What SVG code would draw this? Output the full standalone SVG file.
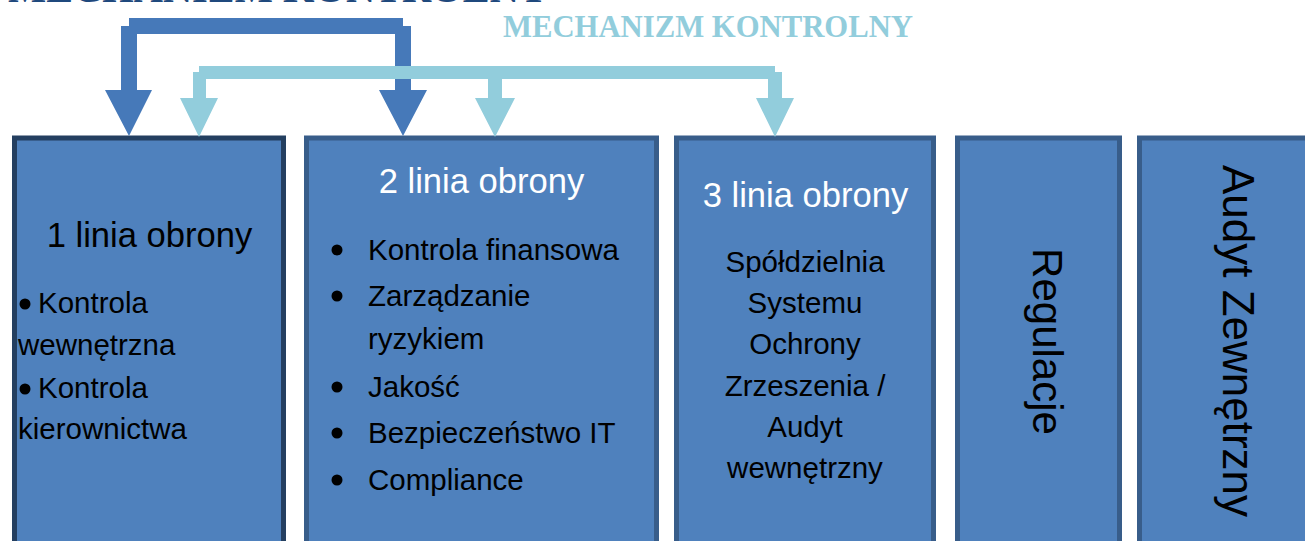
<svg xmlns="http://www.w3.org/2000/svg" width="1305" height="541" viewBox="0 0 1305 541">
<style>
.box{fill:#4F81BD;stroke:#385D8A;stroke-width:5}
.box1{stroke:#243F60}
.t{font-family:"Liberation Sans",Arial,sans-serif;fill:#000}
.h{font-size:34.6px}
.b{font-size:29.5px}
.w{fill:#FFFFFF}
.dot{fill:#000}
.title{font-family:"Liberation Serif","Times New Roman",serif;font-weight:bold}
</style>
<rect width="1305" height="541" fill="#FFFFFF"/>
<g id="title-dark"><text class="title" x="8" y="2" font-size="40" textLength="540" lengthAdjust="spacingAndGlyphs" fill="#1F497D">MECHANIZM KONTROLNY</text></g>
<g id="title-light"><text class="title" x="503" y="37" font-size="31" textLength="410" lengthAdjust="spacingAndGlyphs" fill="#92CDDC">MECHANIZM KONTROLNY</text></g>
<g id="box1">
<rect class="box box1" x="14.5" y="138" width="269" height="420"/>
<text class="t h" x="149.5" y="247" text-anchor="middle">1 linia obrony</text>
<circle class="dot" cx="25" cy="304" r="5.5"/>
<text class="t b" x="38" y="313">Kontrola</text>
<text class="t b" x="18" y="355">wewnętrzna</text>
<circle class="dot" cx="25" cy="389" r="5.5"/>
<text class="t b" x="38" y="398">Kontrola</text>
<text class="t b" x="18" y="439">kierownictwa</text>
</g>
<g id="box2">
<rect class="box" x="306.5" y="138" width="350" height="420"/>
<text class="t h w" x="481.5" y="193" text-anchor="middle">2 linia obrony</text>
<circle class="dot" cx="337" cy="250" r="5.5"/>
<text class="t b" x="368" y="260">Kontrola finansowa</text>
<circle class="dot" cx="337" cy="296" r="5.5"/>
<text class="t b" x="368" y="306">Zarządzanie</text>
<text class="t b" x="368" y="349">ryzykiem</text>
<circle class="dot" cx="337" cy="387" r="5.5"/>
<text class="t b" x="368" y="397">Jakość</text>
<circle class="dot" cx="337" cy="433" r="5.5"/>
<text class="t b" x="368" y="443">Bezpieczeństwo IT</text>
<circle class="dot" cx="337" cy="480" r="5.5"/>
<text class="t b" x="368" y="490">Compliance</text>
</g>
<g id="box3">
<rect class="box" x="676.5" y="138" width="257" height="420"/>
<text class="t h w" x="805.5" y="207" text-anchor="middle">3 linia obrony</text>
<text class="t b" x="805" y="272" text-anchor="middle">Spółdzielnia</text>
<text class="t b" x="805" y="313" text-anchor="middle">Systemu</text>
<text class="t b" x="805" y="354" text-anchor="middle">Ochrony</text>
<text class="t b" x="805" y="396" text-anchor="middle">Zrzeszenia /</text>
<text class="t b" x="805" y="437" text-anchor="middle">Audyt</text>
<text class="t b" x="805" y="478" text-anchor="middle">wewnętrzny</text>
</g>
<g id="box4">
<rect class="box" x="957.5" y="138" width="162" height="420"/>
<text class="t" font-size="42" x="0" y="0" text-anchor="middle" transform="translate(1033 341.5) rotate(90)">Regulacje</text>
</g>
<g id="box5">
<rect class="box" x="1139.5" y="138" width="200" height="420"/>
<text class="t" font-size="44" x="0" y="0" text-anchor="middle" transform="translate(1223 341) rotate(90)">Audyt Zewnętrzny</text>
</g>
<g id="connectors">
<polygon fill="#4679B9" points="121,26 129,26 129,18 403,18 403,26 411,26 411,90 427,90 403,136 379,90 395,90 395,34 137,34 137,90 152,90 129,136 105,90 121,90"/>
<polygon fill="#92CDDC" points="193,72 199,72 199,66 775,66 775,72 782,72 782,98 794,98 775,137 756,98 768,98 768,79 502,79 502,98 515,98 495,137 475,98 488,98 488,79 206,79 206,98 218,98 199,137 180,98 193,98"/>
</g>
</svg>
